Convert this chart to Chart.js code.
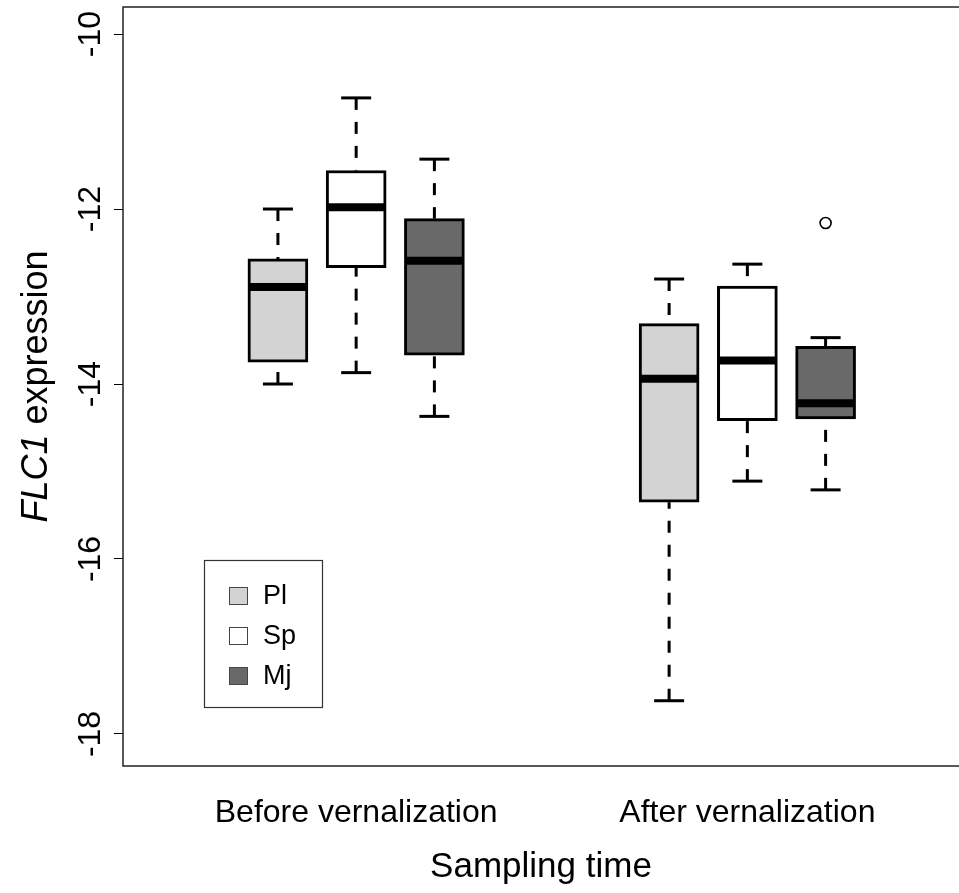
<!DOCTYPE html>
<html>
<head>
<meta charset="utf-8">
<script src="https://cdn.jsdelivr.net/npm/chart.js@4.4.1/dist/chart.umd.min.js"></script>
<style>
    html, body { margin: 0; padding: 0; background: #fff; overflow: hidden; }
    #wrap { width: 959px; height: 893px; }
</style>
</head>
<body>
<div id="wrap"><canvas id="flcChart" width="959" height="893"></canvas></div>
<script>
const groups = ['Before vernalization', 'After vernalization'];
const groupPos = [2, 7];
const species = ['Pl', 'Sp', 'Mj'];
const speciesShift = [-1, 0, 1];
const speciesFill = ['#d3d3d3', '#ffffff', '#696969'];
const yTicks = [-18, -16, -14, -12, -10];

// five-number summaries, [before, after]
const plLow = [-14.00, -17.62];
const plQ1 = [-13.75, -15.35];
const plMed = [-12.89, -13.94];
const plQ3 = [-12.57, -13.31];
const plHigh = [-12.00, -12.80];

const spLow = [-13.87, -15.11];
const spQ1 = [-12.67, -14.42];
const spMed = [-11.98, -13.73];
const spQ3 = [-11.56, -12.88];
const spHigh = [-10.73, -12.63];

const mjLow = [-14.37, -15.21];
const mjQ1 = [-13.67, -14.40];
const mjMed = [-12.59, -14.22];
const mjQ3 = [-12.11, -13.57];
const mjHigh = [-11.43, -13.47];

const mjOutliers = [[], [-12.16]];

const FONT = '"Liberation Sans", Arial, Helvetica, sans-serif';

document.addEventListener('DOMContentLoaded', function() {
    const ctx = document.getElementById('flcChart').getContext('2d');

    const stats = [
        { low: plLow, q1: plQ1, med: plMed, q3: plQ3, high: plHigh },
        { low: spLow, q1: spQ1, med: spMed, q3: spQ3, high: spHigh },
        { low: mjLow, q1: mjQ1, med: mjMed, q3: mjQ3, high: mjHigh }
    ];

    const boxSets = species.map(function(name, s) {
        return {
            type: 'bar',
            label: name,
            data: groupPos.map(function(pos, g) {
                return { x: pos + speciesShift[s], y: [stats[s].q1[g], stats[s].q3[g]] };
            }),
            backgroundColor: speciesFill[s],
            borderColor: '#000',
            borderWidth: 3,
            borderSkipped: false,
            barThickness: 60,
            grouped: false
        };
    });

    const outlierPoints = [];
    mjOutliers.forEach(function(list, g) {
        list.forEach(function(v) {
            outlierPoints.push({ x: groupPos[g] + speciesShift[2], y: v });
        });
    });

    const boxParts = {
        id: 'boxParts',
        afterDatasetsDraw(chart) {
            const { ctx, scales: { x, y } } = chart;
            ctx.save();
            ctx.strokeStyle = '#000';
            ctx.lineCap = 'butt';
            stats.forEach(function(st, s) {
                groupPos.forEach(function(pos, g) {
                    const px = x.getPixelForValue(pos + speciesShift[s]);
                    ctx.lineWidth = 3;
                    ctx.setLineDash([12, 12]);
                    [[st.high[g], st.q3[g]], [st.low[g], st.q1[g]]].forEach(function(seg) {
                        ctx.beginPath();
                        ctx.moveTo(px, y.getPixelForValue(seg[0]));
                        ctx.lineTo(px, y.getPixelForValue(seg[1]));
                        ctx.stroke();
                    });
                    ctx.setLineDash([]);
                    [st.high[g], st.low[g]].forEach(function(v) {
                        const py = y.getPixelForValue(v);
                        ctx.beginPath();
                        ctx.moveTo(px - 15, py);
                        ctx.lineTo(px + 15, py);
                        ctx.stroke();
                    });
                    ctx.lineWidth = 8;
                    const my = y.getPixelForValue(st.med[g]);
                    ctx.beginPath();
                    ctx.moveTo(px - 29, my);
                    ctx.lineTo(px + 29, my);
                    ctx.stroke();
                });
            });
            ctx.restore();
        },
        afterDraw(chart) {
            const { ctx, chartArea: a } = chart;
            ctx.save();
            // plot frame, right side runs off the picture
            ctx.strokeStyle = '#222';
            ctx.lineWidth = 1.5;
            ctx.beginPath();
            ctx.moveTo(a.right + 10, a.top);
            ctx.lineTo(a.left, a.top);
            ctx.lineTo(a.left, a.bottom);
            ctx.lineTo(a.right + 10, a.bottom);
            ctx.stroke();

            // y axis title with italic gene name
            ctx.fillStyle = '#000';
            ctx.textBaseline = 'alphabetic';
            const italic = 'italic 36px ' + FONT;
            const plain = '36px ' + FONT;
            ctx.font = italic;
            const w1 = ctx.measureText('FLC1').width;
            ctx.font = plain;
            const w2 = ctx.measureText(' expression').width;
            ctx.translate(47, (a.top + a.bottom) / 2);
            ctx.rotate(-Math.PI / 2);
            ctx.textAlign = 'left';
            ctx.font = italic;
            ctx.fillText('FLC1', -(w1 + w2) / 2, 0);
            ctx.font = plain;
            ctx.fillText(' expression', -(w1 + w2) / 2 + w1, 0);
            ctx.setTransform(1, 0, 0, 1, 0, 0);

            // legend
            ctx.strokeStyle = '#333';
            ctx.lineWidth = 1.2;
            ctx.strokeRect(204.5, 560.5, 118, 147);
            ctx.font = '27px ' + FONT;
            ctx.textBaseline = 'middle';
            species.forEach(function(name, s) {
                const cy = 596 + s * 40;
                ctx.fillStyle = speciesFill[s];
                ctx.fillRect(229.5, cy - 8.5, 18, 17);
                ctx.strokeStyle = '#444';
                ctx.lineWidth = 1;
                ctx.strokeRect(229.5, cy - 8.5, 18, 17);
                ctx.fillStyle = '#000';
                ctx.fillText(name, 263, cy + 1);
            });
            ctx.restore();
        }
    };

    new Chart(ctx, {
        type: 'bar',
        data: {
            datasets: boxSets.concat([{
                type: 'scatter',
                label: 'outliers',
                data: outlierPoints,
                pointRadius: 5.5,
                pointBorderWidth: 1.6,
                pointBorderColor: '#000',
                pointBackgroundColor: 'rgba(0,0,0,0)',
                showLine: false
            }])
        },
        options: {
            responsive: false,
            animation: false,
            events: [],
            layout: { autoPadding: false, padding: { top: 7, left: 0, right: 0, bottom: 0 } },
            plugins: {
                legend: { display: false },
                tooltip: { enabled: false }
            },
            scales: {
                x: {
                    type: 'linear',
                    offset: false,
                    bounds: 'data',
                    min: -0.98,
                    max: 9.705,
                    border: { display: false },
                    grid: { display: false, drawTicks: false, offset: false },
                    afterBuildTicks: function(scale) {
                        scale.ticks = groupPos.map(function(v) { return { value: v }; });
                    },
                    afterFit: function(scale) {
                        scale.height = 127;
                        scale.paddingLeft = 0;
                        scale.paddingRight = 0;
                    },
                    ticks: {
                        autoSkip: false,
                        maxRotation: 0,
                        padding: 28,
                        color: '#000',
                        font: { family: FONT, size: 32 },
                        callback: function(value) { return groups[groupPos.indexOf(value)]; }
                    },
                    title: {
                        display: true,
                        text: 'Sampling time',
                        color: '#000',
                        font: { family: FONT, size: 35 },
                        padding: { top: 0, bottom: 5 }
                    }
                },
                y: {
                    type: 'linear',
                    min: -18.366,
                    max: -9.691,
                    border: { display: false },
                    grid: { display: true, drawOnChartArea: false, drawTicks: true, tickLength: 9, color: '#000', lineWidth: 1 },
                    afterBuildTicks: function(scale) {
                        scale.ticks = yTicks.map(function(v) { return { value: v }; });
                    },
                    afterFit: function(scale) {
                        scale.width = 123;
                        scale.paddingTop = 0;
                        scale.paddingBottom = 0;
                    },
                    ticks: {
                        autoSkip: false,
                        minRotation: 90,
                        maxRotation: 90,
                        crossAlign: 'center',
                        padding: 0,
                        color: '#000',
                        font: { family: FONT, size: 32 }
                    }
                }
            }
        },
        plugins: [boxParts]
    });
});
</script>
</body>
</html>
